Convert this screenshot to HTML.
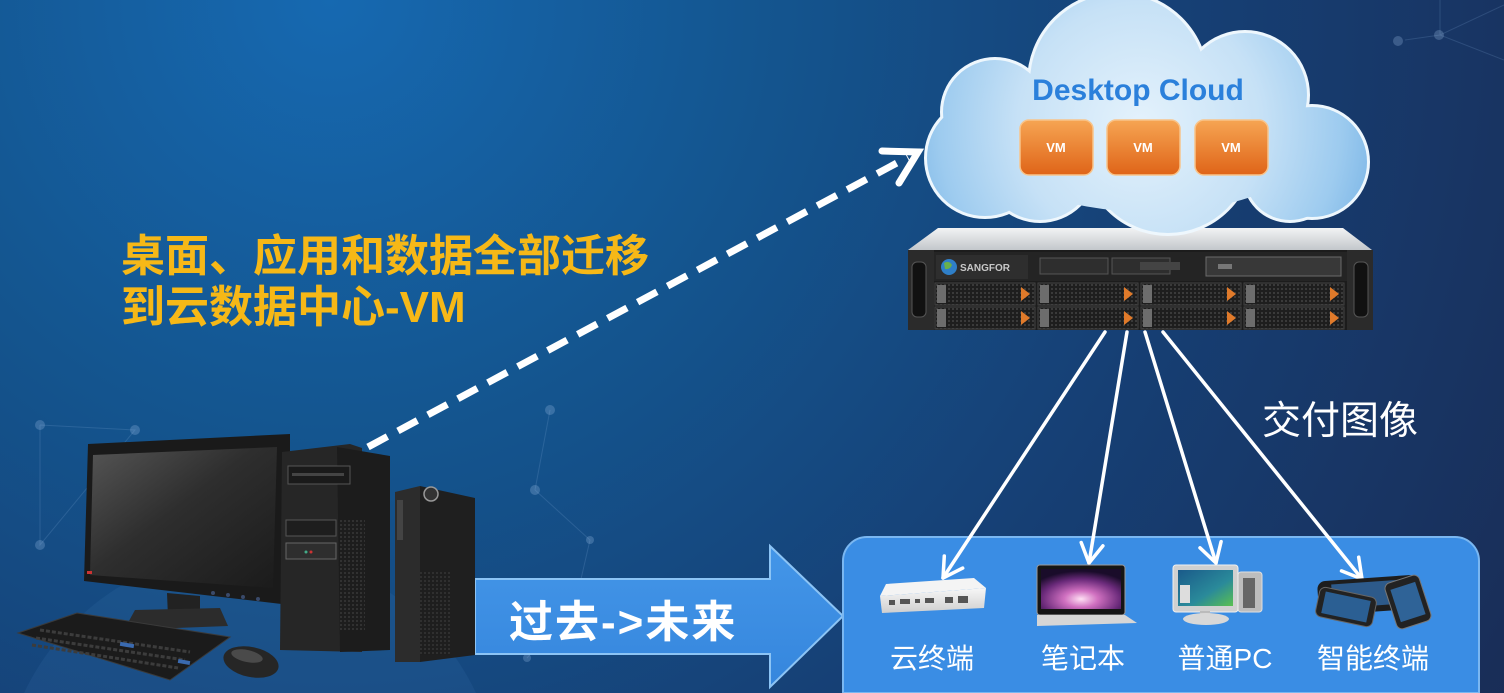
<!DOCTYPE html>
<html><head><meta charset="utf-8">
<style>
html,body{margin:0;padding:0;background:#153a6e;width:1504px;height:693px;overflow:hidden;}
svg{display:block;}
.cjk{font-family:"Liberation Sans","Noto Sans CJK SC","WenQuanYi Zen Hei",sans-serif;}
</style></head>
<body>
<svg width="1504" height="693" viewBox="0 0 1504 693" xmlns="http://www.w3.org/2000/svg">
<defs>
  <radialGradient id="bg" gradientUnits="userSpaceOnUse" cx="330" cy="0" r="1450">
    <stop offset="0" stop-color="#1669b1"/>
    <stop offset="0.3" stop-color="#14558f"/>
    <stop offset="0.6" stop-color="#163f74"/>
    <stop offset="1" stop-color="#1a2a52"/>
  </radialGradient>
  <radialGradient id="cloudg" gradientUnits="userSpaceOnUse" cx="1140" cy="125" r="245">
    <stop offset="0" stop-color="#e4f2fc"/>
    <stop offset="0.5" stop-color="#c6e1f6"/>
    <stop offset="0.82" stop-color="#9dcbef"/>
    <stop offset="1" stop-color="#7cb6e6"/>
  </radialGradient>
  <linearGradient id="vmg" x1="0" y1="0" x2="0" y2="1">
    <stop offset="0" stop-color="#f6a553"/>
    <stop offset="1" stop-color="#df6418"/>
  </linearGradient>
  <linearGradient id="topc" x1="0" y1="0" x2="0" y2="1">
    <stop offset="0" stop-color="#f2f3f4"/>
    <stop offset="1" stop-color="#c3c7cb"/>
  </linearGradient>
  <linearGradient id="blueg" x1="0" y1="0" x2="0" y2="1">
    <stop offset="0" stop-color="#4496e8"/>
    <stop offset="1" stop-color="#3586dd"/>
  </linearGradient>
  <linearGradient id="scr" x1="0" y1="0" x2="1" y2="1">
    <stop offset="0" stop-color="#555"/>
    <stop offset="0.45" stop-color="#2e2e2e"/>
    <stop offset="1" stop-color="#1b1b1b"/>
  </linearGradient>
  <radialGradient id="lapscr" cx="0.5" cy="0.75" r="0.7">
    <stop offset="0" stop-color="#ffe0f4"/>
    <stop offset="0.3" stop-color="#d070c0"/>
    <stop offset="0.7" stop-color="#6a2a7a"/>
    <stop offset="1" stop-color="#1a0c2a"/>
  </radialGradient>
  <linearGradient id="pcscr" x1="0" y1="0" x2="1" y2="1">
    <stop offset="0" stop-color="#1a5a8a"/>
    <stop offset="0.6" stop-color="#2a8a9a"/>
    <stop offset="1" stop-color="#5ac050"/>
  </linearGradient>
  <linearGradient id="boxg" x1="0" y1="0" x2="0" y2="1">
    <stop offset="0" stop-color="#f7f7f7"/>
    <stop offset="1" stop-color="#cfcfcf"/>
  </linearGradient>
  <pattern id="mesh" width="4" height="4" patternUnits="userSpaceOnUse">
    <rect width="4" height="4" fill="#1e1e1e"/>
    <rect width="2" height="2" fill="#3a3a3a"/>
  </pattern>
</defs>

<!-- background -->
<rect width="1504" height="693" fill="url(#bg)"/>
<path d="M24,693 A250,250 0 0 1 476,693 Z" fill="#6aa2e0" opacity="0.08"/>
<g stroke="#8fb8e6" stroke-width="1" opacity="0.18" fill="none">
  <path d="M40,425 L135,430 L40,545 L40,425"/>
  <path d="M550,410 L535,490 L590,540 L575,605 L527,658"/>
  <path d="M1405,40 L1440,35 L1504,5 M1440,35 L1504,60 M1440,35 L1440,0"/>
</g>
<g fill="#a8c8ee" opacity="0.25">
  <circle cx="40" cy="425" r="5"/><circle cx="135" cy="430" r="5"/><circle cx="40" cy="545" r="5"/>
  <circle cx="550" cy="410" r="5"/><circle cx="535" cy="490" r="5"/><circle cx="590" cy="540" r="4"/>
  <circle cx="575" cy="605" r="4"/><circle cx="527" cy="658" r="4"/>
  <circle cx="1398" cy="41" r="5"/><circle cx="1439" cy="35" r="5"/>
</g>

<!-- yellow text -->
<g class="cjk" font-weight="bold" font-size="44" fill="#f6b817">
  <text x="121" y="271">桌面、应用和数据全部迁移</text>
  <text x="121" y="322">到云数据中心-VM</text>
</g>

<!-- dashed arrow -->
<line x1="368" y1="447" x2="908" y2="157" stroke="#fff" stroke-width="7" stroke-dasharray="22 12"/>
<polyline points="882,151 918,152 899,183" fill="none" stroke="#fff" stroke-width="7" stroke-linejoin="miter" stroke-linecap="round"/>

<!-- server -->
<polygon points="938,228 1343,228 1372,250 908,250" fill="url(#topc)"/>
<rect x="908" y="250" width="465" height="80" fill="#1c1c1c"/>
<rect x="908" y="250" width="26" height="80" fill="#2b2b2b"/>
<rect x="912" y="262" width="14" height="55" rx="5" fill="#111" stroke="#555"/>
<rect x="1347" y="250" width="26" height="80" fill="#2b2b2b"/>
<rect x="1354" y="262" width="14" height="55" rx="5" fill="#111" stroke="#555"/>
<rect x="934" y="252" width="413" height="29" fill="#242424"/>
<rect x="936" y="255" width="92" height="24" fill="#2e2e2e"/>
<circle cx="949" cy="267" r="8" fill="#2f7fc8"/>
<path d="M944,263 q5,-3 8,2 q-2,5 -7,4 z" fill="#6ab04a"/>
<text x="960" y="271" font-family="Liberation Sans,sans-serif" font-size="10" font-weight="bold" fill="#c8c8c8">SANGFOR</text>
<rect x="1040" y="258" width="68" height="16" fill="#2e2e2e" stroke="#555"/>
<rect x="1112" y="258" width="58" height="16" fill="#2e2e2e" stroke="#555"/>
<rect x="1140" y="262" width="40" height="8" fill="#444"/>
<rect x="1206" y="257" width="135" height="19" fill="#383838" stroke="#6a6a6a"/>
<rect x="1218" y="264" width="14" height="5" fill="#777"/>
<g>
  <g id="bay">
    <rect x="935" y="283" width="100" height="22" fill="url(#mesh)" stroke="#444"/>
    <rect x="937" y="285" width="9" height="18" fill="#6d6d6d"/>
    <polygon points="1021,287 1030,294 1021,301" fill="#e07a2a"/>
  </g>
  <use href="#bay" x="103"/><use href="#bay" x="206"/><use href="#bay" x="309"/>
  <use href="#bay" y="24"/><use href="#bay" x="103" y="24"/><use href="#bay" x="206" y="24"/><use href="#bay" x="309" y="24"/>
</g>

<!-- cloud -->
<g fill="#eef7fd" stroke="#eef7fd" stroke-width="6">
  <circle cx="995" cy="112" r="52"/>
  <circle cx="985" cy="158" r="58"/>
  <circle cx="1040" cy="165" r="55"/>
  <circle cx="1118" cy="82" r="88"/>
  <circle cx="1245" cy="95" r="62"/>
  <circle cx="1312" cy="162" r="55"/>
  <circle cx="1168" cy="150" r="83"/>
  <circle cx="1290" cy="175" r="45"/>
</g>
<g fill="url(#cloudg)">
  <circle cx="995" cy="112" r="52"/>
  <circle cx="985" cy="158" r="58"/>
  <circle cx="1040" cy="165" r="55"/>
  <circle cx="1118" cy="82" r="88"/>
  <circle cx="1245" cy="95" r="62"/>
  <circle cx="1312" cy="162" r="55"/>
  <circle cx="1168" cy="150" r="83"/>
  <circle cx="1290" cy="175" r="45"/>
  <ellipse cx="1150" cy="140" rx="165" ry="72"/>
</g>
<text x="1138" y="100" text-anchor="middle" font-family="Liberation Sans,sans-serif" font-weight="bold" font-size="30" fill="#2b80db">Desktop Cloud</text>
<g>
  <rect x="1020" y="120" width="73" height="55" rx="9" fill="url(#vmg)" stroke="#f8c48a" stroke-width="1.5"/>
  <rect x="1107" y="120" width="73" height="55" rx="9" fill="url(#vmg)" stroke="#f8c48a" stroke-width="1.5"/>
  <rect x="1195" y="120" width="73" height="55" rx="9" fill="url(#vmg)" stroke="#f8c48a" stroke-width="1.5"/>
  <g font-family="Liberation Sans,sans-serif" font-weight="bold" font-size="13" fill="#fff" text-anchor="middle">
    <text x="1056" y="152">VM</text><text x="1143" y="152">VM</text><text x="1231" y="152">VM</text>
  </g>
</g>

<!-- big blue arrow -->
<path d="M475,579 L770,579 L770,546 L843,616 L770,687 L770,654 L475,654 Z" fill="url(#blueg)" stroke="#8cc4f5" stroke-width="2"/>
<text x="509" y="637" class="cjk" font-weight="bold" font-size="44" letter-spacing="2" fill="#fff">过去-&gt;未来</text>

<!-- panel -->
<path d="M843,693 V561 A24,24 0 0 1 867,537 H1455 A24,24 0 0 1 1479,561 V693 Z" fill="#3a8de4" stroke="#7ab7f1" stroke-width="2"/>

<!-- delivery arrows -->
<g stroke="#fff" stroke-width="3.5" fill="none" stroke-linecap="round" stroke-linejoin="round">
  <line x1="1105" y1="332" x2="943" y2="578"/>
  <polyline points="962.7,568.1 943,578 944.3,556"/>
  <line x1="1127" y1="332" x2="1089" y2="563"/>
  <polyline points="1102.9,545.9 1089,563 1081.2,542.5"/>
  <line x1="1145" y1="332" x2="1216" y2="563"/>
  <polyline points="1221.1,541.6 1216,563 1200,547.8"/>
  <line x1="1163" y1="332" x2="1362" y2="579"/>
  <polyline points="1358.7,557.2 1362,579 1341.5,570.9"/>
</g>
<text x="1262" y="434" class="cjk" font-size="39" fill="#fff">交付图像</text>

<!-- devices -->
<polygon points="886,584 974,578 986,588 880,596" fill="#f4f4f4"/>
<polygon points="880,596 986,588 984,608 882,613" fill="url(#boxg)"/>
<g fill="#555">
  <rect x="889" y="600" width="6" height="5"/><rect x="900" y="599" width="10" height="5"/>
  <rect x="915" y="599" width="5" height="4"/><rect x="925" y="598" width="9" height="5"/>
  <rect x="945" y="597" width="8" height="6"/><rect x="958" y="596" width="10" height="7"/>
</g>
<rect x="1037" y="565" width="88" height="50" rx="3" fill="#151515" stroke="#9a9a9a"/>
<rect x="1041" y="569" width="80" height="40" fill="url(#lapscr)"/>
<polygon points="1037,615 1125,615 1137,623 1037,626" fill="#d6d6d6"/>
<rect x="1238" y="572" width="24" height="40" rx="3" fill="#bdbdbd" stroke="#e0e0e0"/>
<rect x="1243" y="578" width="12" height="30" fill="#666"/>
<rect x="1173" y="565" width="65" height="47" rx="3" fill="#d0d0d0" stroke="#f0f0f0"/>
<rect x="1178" y="570" width="55" height="36" fill="url(#pcscr)"/>
<rect x="1180" y="585" width="10" height="18" fill="#ddd"/>
<rect x="1200" y="611" width="10" height="6" fill="#bbb"/>
<ellipse cx="1206" cy="619" rx="23" ry="6" fill="#d8d8d8"/>
<g>
  <rect x="1318" y="578" width="100" height="34" rx="8" fill="#1d1d1d" transform="rotate(-4 1368 595)"/>
  <rect x="1332" y="582" width="72" height="24" fill="#2d5a8a" transform="rotate(-4 1368 595)"/>
  <rect x="1317" y="592" width="58" height="30" rx="6" fill="#222" stroke="#666" transform="rotate(12 1346 607)"/>
  <rect x="1323" y="596" width="46" height="22" fill="#2b5f93" transform="rotate(12 1346 607)"/>
  <rect x="1390" y="578" width="36" height="48" rx="6" fill="#222" stroke="#777" transform="rotate(-18 1408 602)"/>
  <rect x="1395" y="585" width="26" height="34" fill="#2f6397" transform="rotate(-18 1408 602)"/>
</g>
<g class="cjk" font-size="28" fill="#fff" text-anchor="middle">
  <text x="932" y="668">云终端</text>
  <text x="1083" y="668">笔记本</text>
  <text x="1225" y="668">普通PC</text>
  <text x="1373" y="668">智能终端</text>
</g>

<!-- left computer -->
<polygon points="88,444 290,434 290,605 84,581" fill="#1a1a1a"/>
<polygon points="93,455 277,447 273,588 90,575" fill="url(#scr)"/>
<g fill="#3a4a6a"><circle cx="213" cy="593" r="2"/><circle cx="228" cy="595" r="2"/><circle cx="243" cy="597" r="2"/><circle cx="258" cy="599" r="2"/></g>
<rect x="87" y="571" width="5" height="3" fill="#c33"/>
<polygon points="167,593 200,596 200,618 168,617" fill="#222"/>
<polygon points="135,610 220,608 228,626 124,630" fill="#2c2c2c"/>
<polygon points="18,633 77,613 230,637 170,680" fill="#1b1b1b" stroke="#3a3a3a"/>
<g stroke="#3c3c3c" stroke-width="3" stroke-dasharray="4 2">
  <line x1="40" y1="630" x2="190" y2="652"/>
  <line x1="36" y1="638" x2="185" y2="660"/>
  <line x1="32" y1="645" x2="178" y2="668"/>
</g>
<rect x="120" y="643" width="14" height="4" fill="#3a6ab0" transform="rotate(10 127 645)"/>
<rect x="178" y="660" width="12" height="4" fill="#3a6ab0" transform="rotate(10 184 662)"/>
<ellipse cx="251" cy="662" rx="28" ry="15" fill="#262626" transform="rotate(12 251 662)"/>
<ellipse cx="247" cy="656" rx="16" ry="6" fill="#4a4a4a" transform="rotate(12 247 656)"/>
<polygon points="282,452 350,444 362,448 362,652 280,650" fill="#262626"/>
<polygon points="337,447 390,456 390,650 340,652" fill="#1c1c1c"/>
<rect x="340" y="520" width="25" height="110" fill="url(#mesh)" opacity="0.7"/>
<rect x="288" y="466" width="62" height="18" fill="#1a1a1a" stroke="#555"/>
<rect x="292" y="473" width="52" height="3" fill="#444"/>
<rect x="286" y="520" width="50" height="16" fill="#1e1e1e" stroke="#555"/>
<rect x="286" y="543" width="50" height="16" fill="#2e2e2e" stroke="#666"/>
<circle cx="306" cy="552" r="1.5" fill="#4a8"/><circle cx="311" cy="552" r="1.5" fill="#c33"/>
<polygon points="395,492 420,486 420,662 395,662" fill="#2c2c2c"/>
<polygon points="420,486 475,498 475,655 420,662" fill="#1f1f1f"/>
<rect x="397" y="500" width="6" height="40" fill="#444"/>
<circle cx="431" cy="494" r="7" fill="#333" stroke="#999" stroke-width="1.5"/>
<rect x="420" y="570" width="30" height="85" fill="url(#mesh)" opacity="0.6"/>
</svg>
</body></html>
